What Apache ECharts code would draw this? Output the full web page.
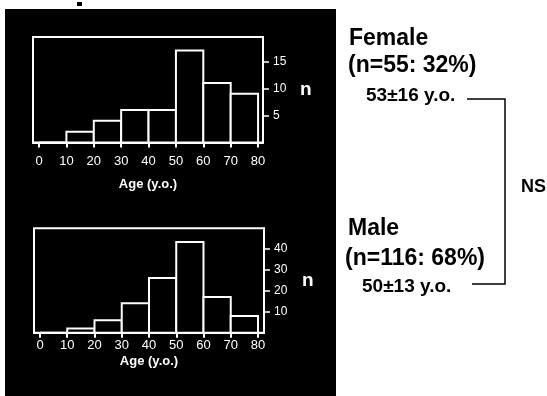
<!DOCTYPE html>
<html>
<head>
<meta charset="utf-8">
<script src="https://cdn.jsdelivr.net/npm/echarts@6/dist/echarts.min.js"></script>
<style>
  html, body { margin: 0; padding: 0; background: #fff; }
  #main { width: 547px; height: 396px; }
</style>
</head>
<body>
<div id="main"></div>
<script>
// age bins (y.o.), counts per bin
const binStarts = [0, 10, 20, 30, 40, 50, 60, 70];
const binEnds = [10, 20, 30, 40, 50, 60, 70, 80];
const femaleCounts = [0, 2, 4, 6, 6, 17, 11, 9];
const maleCounts = [0, 2, 6, 14, 26, 43, 17, 8];
const ageTicks = [0, 10, 20, 30, 40, 50, 60, 70, 80];
const femaleTicks = [5, 10, 15];
const maleTicks = [10, 20, 30, 40];

const FONT = 'Liberation Sans';
const myChart = echarts.init(document.getElementById('main'));

function bins(counts) {
  return counts.map((c, i) => [binStarts[i], binEnds[i], c]);
}

// histogram bars: black fill, white outline
function renderBin(params, api) {
  const p0 = api.coord([api.value(0), api.value(2)]);
  const p1 = api.coord([api.value(1), 0]);
  return {
    type: 'rect',
    shape: { x: p0[0], y: p0[1], width: p1[0] - p0[0], height: p1[1] - p0[1] },
    style: { fill: '#000', stroke: '#fff', lineWidth: 2 }
  };
}

function xAxisFor(gridIndex, min, max, labelMargin, nameGap) {
  return {
    type: 'value', gridIndex, min, max,
    axisLine: { show: true, onZero: false, lineStyle: { color: '#fff', width: 2 } },
    axisTick: { show: true, length: 5, customValues: ageTicks, lineStyle: { color: '#fff', width: 2 } },
    axisLabel: { customValues: ageTicks, color: '#fff', fontFamily: FONT, fontSize: 13, margin: labelMargin },
    splitLine: { show: false },
    name: 'Age (y.o.)', nameLocation: 'middle', nameGap,
    nameTextStyle: { color: '#fff', fontFamily: FONT, fontWeight: 'bold', fontSize: 13 }
  };
}

function yAxisFor(gridIndex, max, ticks, nameGap) {
  return {
    type: 'value', gridIndex, position: 'right', min: 0, max,
    axisLine: { show: true, onZero: false, lineStyle: { color: '#fff', width: 2 } },
    axisTick: { show: true, length: 6, customValues: ticks, lineStyle: { color: '#fff', width: 1.5 } },
    axisLabel: { customValues: ticks, color: '#fff', fontFamily: FONT, fontSize: 12, margin: 10 },
    splitLine: { show: false },
    name: 'n', nameLocation: 'middle', nameGap, nameRotate: 0,
    nameTextStyle: { color: '#fff', fontFamily: FONT, fontWeight: 'bold', fontSize: 19 }
  };
}

const txt = (text, x, y, size) => ({
  type: 'text', x, y,
  style: { text, fill: '#000', font: 'bold ' + size + 'px "' + FONT + '"', verticalAlign: 'middle' }
});

myChart.setOption({
  backgroundColor: '#fff',
  animation: false,
  grid: [
    { left: 33, top: 37, width: 230, height: 105.5, show: true, borderColor: '#fff', borderWidth: 2 },
    { left: 34, top: 228.3, width: 230, height: 104.5, show: true, borderColor: '#fff', borderWidth: 2 }
  ],
  xAxis: [
    xAxisFor(0, -2.2, 81.8, 12, 35),
    xAxisFor(1, -2.2, 82.2, 6, 22)
  ],
  yAxis: [
    yAxisFor(0, 19.5, femaleTicks, 37),
    yAxisFor(1, 49.5, maleTicks, 38)
  ],
  series: [
    { type: 'custom', xAxisIndex: 0, yAxisIndex: 0, renderItem: renderBin, encode: { x: [0, 1], y: 2 }, data: bins(femaleCounts) },
    { type: 'custom', xAxisIndex: 1, yAxisIndex: 1, renderItem: renderBin, encode: { x: [0, 1], y: 2 }, data: bins(maleCounts) }
  ],
  graphic: [
    { type: 'rect', z: -10, shape: { x: 5, y: 9, width: 331, height: 387 }, style: { fill: '#000' } },
    { type: 'rect', shape: { x: 77, y: 2, width: 5, height: 4 }, style: { fill: '#000' } },
    txt('Female', 349, 38.5, 23),
    txt('(n=55: 32%)', 348, 65.5, 23),
    txt('53±16 y.o.', 366, 96, 19),
    txt('Male', 348, 229, 23),
    txt('(n=116: 68%)', 345, 259, 23),
    txt('50±13 y.o.', 362, 286.5, 19),
    txt('NS', 521, 187, 18),
    { type: 'polyline', shape: { points: [[467, 99], [505, 99], [505, 284], [472, 284]] },
      style: { stroke: '#000', lineWidth: 1.5, fill: null } }
  ]
});
</script>
</body>
</html>
